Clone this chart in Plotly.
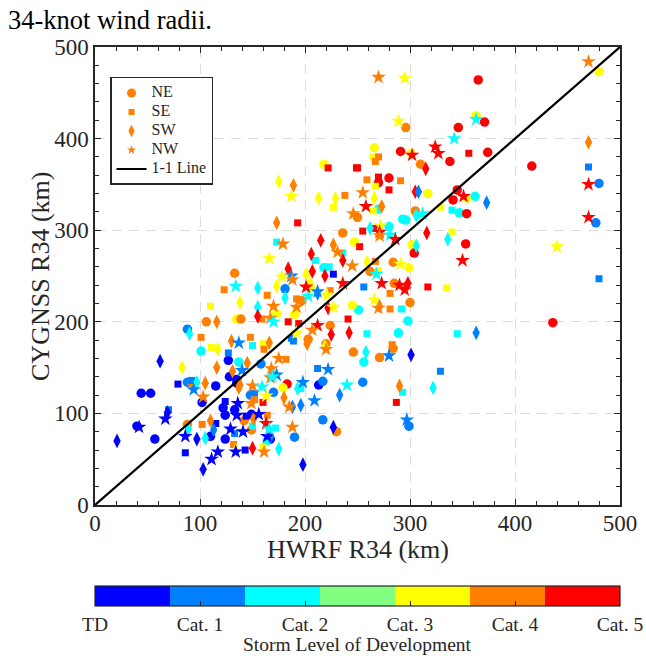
import plotly.graph_objects as go

# ---------------- data (HWRF R34, CYGNSS R34, storm level index 0..6) ----------------
# storm level index: 0=TD, 1..6 = increasing development (colour bands of the bar)
ne_hwrf = [480, 365, 296, 363, 371, 346, 266, 291, 301, 374, 338, 310, 416, 480, 280, 270, 317, 345, 354, 362,
           341, 270, 250, 305, 347, 354, 293, 296, 280, 247, 302, 304, 353, 477, 284, 299, 262, 285, 300, 251,
           245, 298, 436, 289, 246, 284, 256, 271, 255, 299, 218, 236, 218, 133, 181, 197, 224, 106, 135, 139,
           173, 190, 88, 203, 220, 101, 127, 137, 158, 128, 213, 217, 88, 93, 115, 135, 135, 102, 148, 170,
           183, 179, 230, 217, 44, 53, 40, 57, 88, 110, 124, 133, 122, 124, 142, 149, 149, 167, 190]
ne_cygnss = [473, 464, 412, 425, 418, 412, 390, 386, 384, 385, 375, 372, 370, 351, 357, 352, 340, 344, 335, 337,
             333, 323, 314, 321, 319, 318, 312, 311, 304, 287, 284, 275, 285, 308, 265, 259, 255, 242, 221, 213,
             218, 201, 199, 188, 167, 171, 156, 161, 134, 86, 372, 297, 259, 253, 236, 223, 196, 200, 203, 203,
             209, 208, 192, 181, 176, 168, 158, 156, 154, 140, 131, 135, 134, 133, 130, 137, 133, 112, 120, 123,
             132, 128, 80, 93, 122, 122, 86, 72, 88, 75, 98, 104, 106, 72, 92, 99, 82, 72, 74]
ne_level = [4, 6, 5, 4, 6, 6, 4, 6, 4, 6, 6, 5, 6, 1, 6, 6, 4, 6, 4, 2,
            6, 2, 5, 5, 2, 6, 2, 2, 2, 4, 4, 6, 6, 1, 5, 4, 5, 5, 5, 2,
            4, 2, 6, 2, 5, 5, 2, 5, 1, 1, 4, 5, 2, 5, 1, 5, 5, 5, 4, 5,
            4, 4, 1, 5, 5, 2, 0, 2, 1, 0, 0, 1, 1, 5, 0, 0, 0, 0, 1, 1,
            6, 4, 5, 1, 0, 0, 0, 0, 5, 0, 0, 0, 0, 0, 5, 0, 5, 0, 1]

se_hwrf = [470, 480, 356, 265, 270, 267, 250, 259, 270, 291, 267, 280, 265, 329, 340, 255, 266, 340, 252, 267,
           270, 256, 317, 335, 281, 281, 292, 259, 345, 283, 329, 293, 287, 222, 249, 238, 227, 193, 173, 236,
           210, 223, 227, 123, 206, 164, 110, 159, 184, 194, 241, 101, 148, 187, 189, 111, 127, 150, 160, 161,
           182, 212, 92, 79, 152, 152, 160, 196, 70, 102, 86, 115, 133, 132, 144, 143, 150, 164, 172, 163,
           160, 124, 192, 224]
se_cygnss = [369, 247, 384, 380, 380, 375, 368, 355, 358, 354, 348, 344, 321, 325, 322, 299, 302, 298, 282, 266,
             256, 238, 238, 237, 231, 214, 214, 187, 187, 175, 146, 123, 112, 368, 368, 338, 325, 308, 287, 275,
             267, 260, 252, 235, 236, 229, 217, 203, 200, 198, 203, 183, 183, 182, 179, 172, 166, 174, 176, 170,
             159, 149, 136, 132, 122, 115, 112, 127, 104, 88, 57, 89, 78, 66, 97, 60, 86, 98, 84, 69,
             63, 113, 225, 234]
se_level = [1, 1, 6, 4, 5, 5, 6, 5, 6, 5, 4, 6, 4, 4, 2, 6, 6, 4, 6, 5,
            4, 1, 6, 4, 5, 5, 2, 2, 2, 5, 1, 2, 6, 6, 6, 5, 4, 6, 2, 2,
            2, 2, 0, 5, 4, 5, 4, 5, 6, 6, 6, 5, 5, 1, 1, 4, 1, 2, 4, 5,
            5, 1, 1, 0, 1, 5, 6, 2, 1, 5, 0, 0, 1, 5, 0, 0, 2, 5, 2, 2,
            4, 0, 5, 5]

sw_hwrf = [470, 315, 305, 308, 373, 266, 273, 306, 262, 316, 336, 306, 259, 298, 271, 363, 258, 301, 290, 322,
           175, 189, 213, 229, 173, 215, 227, 206, 236, 184, 201, 219, 207, 155, 173, 205, 181, 138, 155, 155,
           116, 225, 242, 90, 130, 166, 202, 219, 117, 145, 116, 83, 62, 131, 137, 138, 105, 97, 180, 193,
           188, 196, 233, 227, 69, 21, 89, 97, 105, 103, 110, 113, 134, 150, 151, 175, 198, 222, 212, 167]
sw_cygnss = [396, 367, 342, 342, 330, 335, 326, 316, 302, 297, 290, 283, 265, 242, 217, 188, 167, 164, 130, 128,
             353, 349, 335, 335, 308, 289, 284, 274, 267, 258, 252, 250, 255, 237, 239, 242, 226, 221, 216, 206,
             200, 186, 188, 187, 179, 177, 176, 173, 170, 155, 150, 150, 157, 146, 128, 131, 133, 134, 117, 127,
             107, 109, 120, 85, 101, 70, 83, 72, 73, 39, 92, 82, 60, 62, 94, 61, 44, 215, 231, 74]
sw_level = [5, 6, 6, 1, 1, 4, 5, 2, 2, 6, 2, 2, 4, 6, 5, 1, 2, 0, 5, 2,
            4, 5, 4, 4, 5, 6, 5, 6, 6, 6, 4, 6, 6, 2, 4, 4, 2, 4, 2, 6,
            5, 6, 6, 2, 5, 5, 5, 4, 4, 5, 5, 4, 0, 5, 5, 5, 5, 2, 5, 2,
            1, 1, 1, 0, 0, 0, 2, 0, 2, 0, 5, 1, 4, 6, 5, 2, 0, 6, 1, 1]

nw_hwrf = [470, 270, 295, 289, 363, 342, 302, 324, 327, 470, 255, 351, 258, 246, 312, 272, 271, 271, 281, 286,
           440, 350, 470, 291, 245, 268, 273, 290, 295, 266, 270, 280, 297, 187, 179, 231, 166, 187, 178, 236,
           134, 188, 212, 203, 170, 192, 167, 170, 212, 207, 192, 137, 220, 175, 222, 198, 168, 167, 173, 169,
           94, 103, 140, 150, 163, 149, 185, 209, 159, 240, 67, 42, 86, 117, 111, 129, 135, 141, 156, 163,
           164, 166, 161, 188, 136, 201, 221, 227, 134]
nw_cygnss = [484, 467, 466, 419, 421, 400, 382, 391, 384, 350, 341, 337, 326, 318, 318, 305, 298, 294, 295, 290,
             282, 267, 314, 263, 261, 252, 242, 240, 235, 224, 215, 163, 93, 337, 285, 276, 269, 250, 249, 242,
             239, 246, 233, 228, 217, 216, 204, 200, 196, 191, 188, 177, 170, 160, 148, 134, 149, 139, 142, 140,
             126, 118, 147, 130, 119, 111, 107, 114, 129, 131, 94, 85, 75, 58, 50, 83, 98, 80, 99, 89,
             75, 83, 58, 85, 111, 238, 229, 216, 58]
nw_level = [5, 5, 4, 4, 2, 2, 6, 6, 6, 6, 5, 6, 6, 5, 2, 4, 6, 5, 2, 6,
            4, 6, 6, 4, 5, 2, 6, 6, 6, 4, 5, 1, 1, 4, 5, 5, 4, 1, 4, 6,
            2, 5, 1, 2, 5, 5, 5, 2, 6, 5, 4, 1, 5, 5, 1, 1, 5, 5, 1, 2,
            1, 5, 1, 5, 4, 5, 5, 1, 2, 2, 0, 0, 0, 0, 0, 0, 0, 0, 0, 6,
            0, 2, 5, 5, 0, 6, 4, 4, 0]

one_to_one = [0, 500]
level_colors = ['#0000FF', '#0080FF', '#00FFFF', '#80FF80', '#FFFF00', '#FF8000', '#FF0000']
level_ticktext = ['TD', 'Cat. 1', 'Cat. 2', 'Cat. 3', 'Cat. 4', 'Cat. 5']
legend_color = '#FF8000'

# ---------------- figure ----------------
FONT = 'Liberation Serif'
INK = '#262626'
n_lv = len(level_colors)
cscale = []
for i, c in enumerate(level_colors):
    cscale.append([i / n_lv, c])
    cscale.append([(i + 1) / n_lv, c])
cmin, cmax = -0.5, n_lv - 0.5
tickvals = [cmin + (cmax - cmin) * k / (len(level_ticktext) - 1) for k in range(len(level_ticktext))]

fig = go.Figure()

quads = [
    ('NE', ne_hwrf, ne_cygnss, ne_level, 'circle', 9.5),
    ('SE', se_hwrf, se_cygnss, se_level, 'square', 7),
    ('SW', sw_hwrf, sw_cygnss, sw_level, 'diamond-tall', 10.5),
    ('NW', nw_hwrf, nw_cygnss, nw_level, 'star', 11),
]
for name, xs, ys, lv, sym, sz in quads:
    fig.add_trace(go.Scatter(
        x=xs, y=ys, mode='markers', name=name, showlegend=False,
        marker=dict(symbol=sym, size=sz, color=lv, coloraxis='coloraxis', line=dict(width=0), opacity=1),
        hoverinfo='x+y'))

legend_sizes = {'circle': 9, 'square': 6, 'diamond-tall': 9, 'star': 7}
LEG_TXT = '<span style="font-size:16px">%s</span>'
for name, xs, ys, lv, sym, sz in quads:
    fig.add_trace(go.Scatter(
        x=[None], y=[None], mode='markers', name=LEG_TXT % name,
        marker=dict(symbol=sym, size=legend_sizes[sym], color=legend_color, line=dict(width=0))))

fig.add_trace(go.Scatter(x=one_to_one, y=one_to_one, mode='lines', name=LEG_TXT % '1-1 Line',
                         line=dict(color='black', width=2.2)))

axis_common = dict(
    range=[0, 500], dtick=100, tick0=0,
    showline=True, linecolor=INK, linewidth=1.5, mirror='allticks',
    ticks='inside', ticklen=6, tickwidth=1.2, tickcolor=INK,
    showgrid=True, gridcolor='#dcdcdc', gridwidth=1.3, griddash='10px,7px',
    zeroline=False,
    tickfont=dict(family=FONT, size=23, color=INK),
    minor=dict(dtick=20, ticks='inside', ticklen=4, tickwidth=1, tickcolor=INK, showgrid=False),
)

fig.update_layout(
    width=646, height=656,
    margin=dict(l=95, r=26, t=47, b=151, autoexpand=False),
    paper_bgcolor='white', plot_bgcolor='white',
    font=dict(family=FONT, color=INK),
    xaxis=dict(axis_common, ticklabelstandoff=-3),
    yaxis=axis_common,
    coloraxis=dict(
        colorscale=cscale, cmin=cmin, cmax=cmax,
        colorbar=dict(
            orientation='h', x=0.5, xanchor='center', y=-0.177, yanchor='top',
            len=525, lenmode='pixels', thickness=20, thicknessmode='pixels',
            xpad=0, ypad=0, outlinecolor=INK, outlinewidth=1.2,
            tickmode='array', tickvals=tickvals, ticktext=level_ticktext,
            ticks='inside', ticklen=5, tickcolor=INK,
            tickfont=dict(family=FONT, size=19.5, color=INK),
        ),
    ),
    legend=dict(x=0.0286, y=0.9345, xanchor='left', yanchor='top',
                bgcolor='white', bordercolor=INK, borderwidth=1.5,
                font=dict(family=FONT, size=10.5, color=INK),
                tracegroupgap=0, itemwidth=30),
    annotations=[
        dict(text='34-knot wind radii.', xref='paper', yref='paper', x=-0.17, y=1.059,
             xanchor='left', yanchor='middle', showarrow=False,
             font=dict(family=FONT, size=26.5, color='black')),
        dict(text='HWRF R34 (km)', xref='paper', yref='paper', x=0.5, y=-0.0965,
             xanchor='center', yanchor='middle', showarrow=False,
             font=dict(family=FONT, size=26, color=INK)),
        dict(text='CYGNSS R34 (km)', xref='paper', yref='paper', x=-0.1048, y=0.5, textangle=-90,
             xanchor='center', yanchor='middle', showarrow=False,
             font=dict(family=FONT, size=26, color=INK)),
        dict(text='Storm Level of Development', xref='paper', yref='paper', x=0.5, y=-0.3035,
             xanchor='center', yanchor='middle', showarrow=False,
             font=dict(family=FONT, size=19.5, color=INK)),
    ],
)

fig.write_html('out.html')
